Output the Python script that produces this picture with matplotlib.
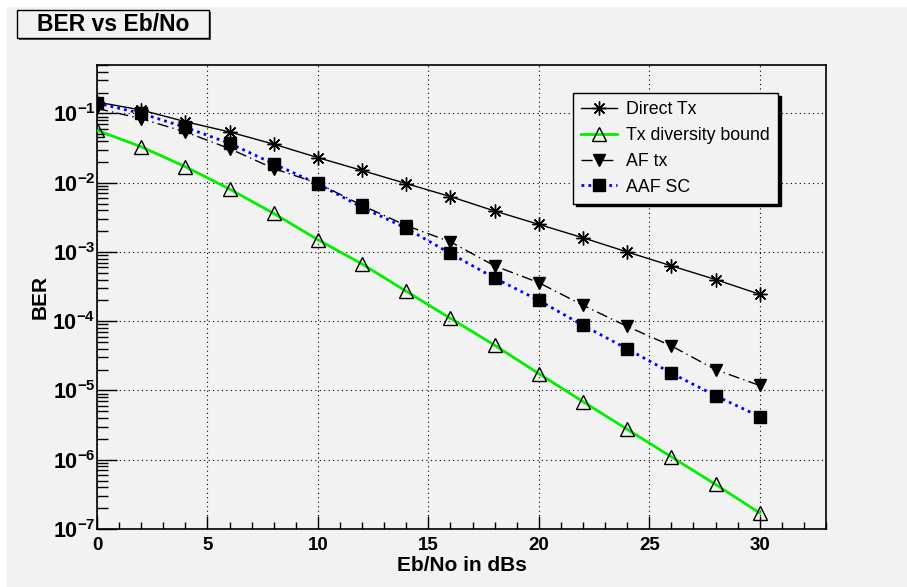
import matplotlib
matplotlib.use("Agg")
import matplotlib.pyplot as plt
from matplotlib.patches import Rectangle
from matplotlib.ticker import LogLocator, FuncFormatter, MultipleLocator, NullFormatter
import numpy as np

plt.rcParams['font.family'] = ['Liberation Sans', 'DejaVu Sans']
plt.rcParams['mathtext.fontset'] = 'custom'
plt.rcParams['mathtext.rm'] = 'Liberation Sans:bold'
plt.rcParams['mathtext.bf'] = 'Liberation Sans:bold'

# Eb/No (dB)
snr_db = [0, 2, 4, 6, 8, 10, 12, 14, 16, 18, 20, 22, 24, 26, 28, 30]

# BER curves
ber_direct = [0.146, 0.112, 0.076, 0.054, 0.036, 0.023, 0.015, 0.0097,
              0.0063, 0.0039, 0.0025, 0.0016, 0.0010, 0.00063, 0.00040, 0.000245]
ber_txdiv = [0.057, 0.033, 0.017, 0.0081, 0.0036, 0.0015, 0.00067, 0.00027,
             0.00011, 4.5e-5, 1.75e-5, 6.9e-6, 2.75e-6, 1.1e-6, 4.4e-7, 1.7e-7]
ber_af = [0.118, 0.084, 0.054, 0.031, 0.016, 0.0098, 0.0047, 0.0024,
          0.0014, 0.00063, 0.00036, 0.00017, 8.4e-5, 4.4e-5, 2.0e-5, 1.18e-5]
ber_aaf = [0.141, 0.100, 0.063, 0.037, 0.0187, 0.0096, 0.0044, 0.0022,
           0.00095, 0.00042, 0.0002, 8.7e-5, 4.0e-5, 1.78e-5, 8.4e-6, 4.2e-6]

labels = ['Direct Tx', 'Tx diversity bound', 'AF tx', 'AAF SC']

W, H = 907, 587
bg = '#f2f2f2'
fig = plt.figure(figsize=(W / 100, H / 100), dpi=100, facecolor='white')

# grey canvas (white strip on top / left like the original)
fig.add_artist(Rectangle((7 / W, 0), 1, 1 - 7 / H, transform=fig.transFigure,
                         facecolor=bg, edgecolor='none', zorder=-10))

ax = fig.add_axes([97 / W, 1 - 529 / H, (826 - 97) / W, (529 - 65) / H])
ax.set_facecolor(bg)

ax.plot(snr_db, ber_direct, color='black', lw=1.0, marker=(8, 2, 0),
        markersize=10, markeredgewidth=1.0, label=labels[0], zorder=3)
ax.plot(snr_db, ber_txdiv, color='#00f000', lw=2.0, marker='^',
        markersize=10, markerfacecolor='none', markeredgecolor='black',
        markeredgewidth=1.0, label=labels[1], zorder=3)
ax.plot(snr_db, ber_af, color='black', lw=1.0, dashes=(8, 3, 1, 3), marker='v',
        markersize=9, markerfacecolor='black', markeredgecolor='black',
        label=labels[2], zorder=4)
ax.plot(snr_db, ber_aaf, color='#0000ff', lw=2.0, linestyle=(0, (1, 1.5)), marker='s',
        markersize=8, markerfacecolor='black', markeredgecolor='black',
        label=labels[3], zorder=5)

ax.set_yscale('log')
ax.set_xlim(0, 33)
ax.set_ylim(1e-7, 0.5)

ax.xaxis.set_major_locator(MultipleLocator(5))
ax.xaxis.set_minor_locator(MultipleLocator(1))
ax.yaxis.set_major_locator(LogLocator(base=10, numticks=20))
ax.yaxis.set_minor_locator(LogLocator(base=10, subs=np.arange(2, 10), numticks=20))
ax.yaxis.set_minor_formatter(NullFormatter())
ax.yaxis.set_major_formatter(FuncFormatter(
    lambda v, p: r'$\mathbf{10^{%d}}$' % int(round(np.log10(v)))))

ax.tick_params(axis='both', which='both', direction='in', top=False, right=False,
               width=1.0, colors='black')
ax.tick_params(axis='x', which='major', length=9.5, pad=6, labelsize=13.5)
ax.tick_params(axis='x', which='minor', length=4.7)
ax.tick_params(axis='y', which='major', length=14.5, pad=1, labelsize=15.5)
ax.tick_params(axis='y', which='minor', length=8)
for t in ax.get_xticklabels():
    t.set_fontweight('bold')

for s in ax.spines.values():
    s.set_linewidth(1.2)
    s.set_color('black')

ax.grid(True, which='major', color='black', linestyle=(0, (1, 3)), lw=0.8)
ax.set_axisbelow(True)

ax.set_xlabel('Eb/No in dBs', fontsize=15, fontweight='bold', labelpad=1)
ax.set_ylabel('BER', fontsize=15, fontweight='bold', labelpad=2)

leg = ax.legend(loc='upper left', bbox_to_anchor=(573 / W, 1 - 93 / H),
                bbox_transform=fig.transFigure, fontsize=12.8, frameon=True,
                fancybox=False, edgecolor='black', facecolor=bg, framealpha=1,
                handlelength=2.0, handletextpad=0.55, labelspacing=0.5,
                borderpad=0.45, borderaxespad=0,
                shadow={'color': 'black', 'alpha': 1})
leg.get_frame().set_linewidth(1.0)

# title box with shadow
fig.add_artist(Rectangle((19 / W, 1 - 40 / H), 192 / W, 28 / H, transform=fig.transFigure,
                         facecolor='#555555', edgecolor='none', zorder=5))
fig.add_artist(Rectangle((17 / W, 1 - 38 / H), 192 / W, 28 / H, transform=fig.transFigure,
                         facecolor=bg, edgecolor='black', lw=1.0, zorder=6))
fig.text(113 / W, 1 - 24.5 / H, 'BER vs Eb/No', ha='center', va='center',
         fontsize=16.5, fontweight='bold', zorder=7)

fig.savefig('out.png', dpi=100, facecolor='white')
